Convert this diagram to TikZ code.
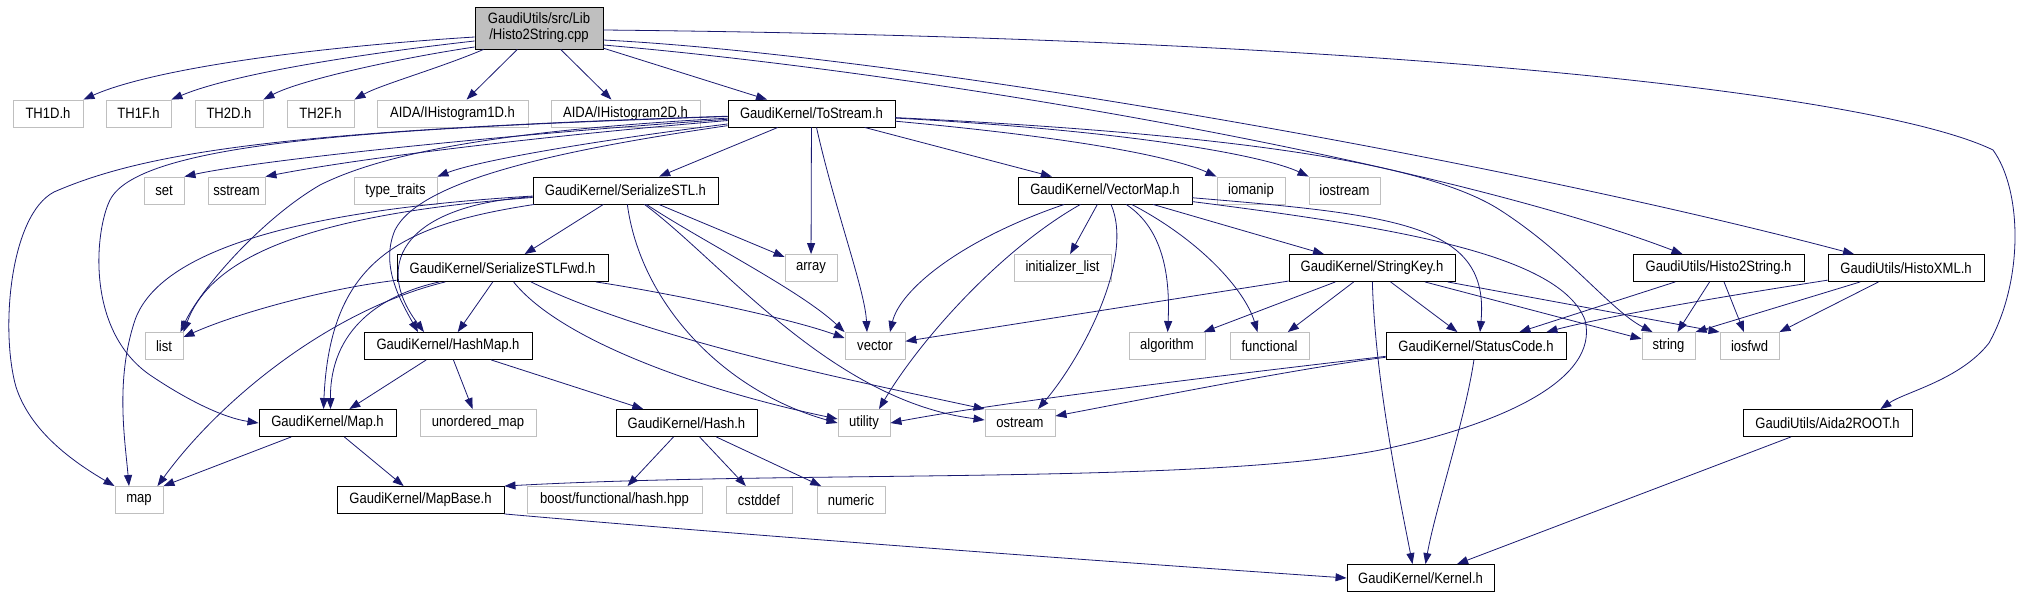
\documentclass[tikz,border=0pt]{standalone}
\usepackage{fontspec}
\setmainfont{Liberation Sans}[FakeStretch=0.87]
\usetikzlibrary{arrows.meta}
\definecolor{edgeblue}{HTML}{191970}

\begin{document}
\begin{tikzpicture}[x=1pt,y=-1pt,sysfile/.style={draw=black!25,line width=0.9pt,minimum height=27pt,inner sep=0pt,font=\fontsize{15}{16}\selectfont},header/.style={sysfile,draw=black},arrow/.style={draw=edgeblue,line width=0.8pt,-{Triangle[length=11pt,width=8pt]}}]
  \useasboundingbox (0,0) rectangle (2027,597);
  \node[header,fill=black!25,minimum width=128pt,minimum height=42pt,align=center] (root) at (539,28) {GaudiUtils/src/Lib\\/Histo2String.cpp};
  % second row
  \node[sysfile,minimum width=70pt] (th1d) at (48,113.5) {TH1D.h};
  \node[sysfile,minimum width=65pt] (th1f) at (138.5,113.5) {TH1F.h};
  \node[sysfile,minimum width=68pt] (th2d) at (229,113.5) {TH2D.h};
  \node[sysfile,minimum width=67pt] (th2f) at (320.5,113.5) {TH2F.h};
  \node[sysfile,minimum width=151pt] (aida1d) at (452.5,113.5) {AIDA/IHistogram1D.h};
  \node[sysfile,minimum width=149pt] (aida2d) at (625.5,113.5) {AIDA/IHistogram2D.h};
  \node[header,minimum width=167pt] (tostream) at (811.5,113.5) {GaudiKernel/ToStream.h};
  % third row
  \node[sysfile,minimum width=40pt] (set) at (164,190.5) {set};
  \node[sysfile,minimum width=57pt] (sstream) at (236.5,190.5) {sstream};
  \node[sysfile,minimum width=83pt] (typetraits) at (395.5,190.5) {type\_traits};
  \node[header,minimum width=185pt] (serstl) at (625.5,190.5) {GaudiKernel/SerializeSTL.h};
  \node[header,minimum width=174pt] (vectormap) at (1105,190.5) {GaudiKernel/VectorMap.h};
  \node[sysfile,minimum width=68pt] (iomanip) at (1251,190.5) {iomanip};
  \node[sysfile,minimum width=71pt] (iostream) at (1344.5,190.5) {iostream};
  % fourth row
  \node[header,minimum width=211pt] (serstlfwd) at (502.5,268) {GaudiKernel/SerializeSTLFwd.h};
  \node[sysfile,minimum width=52pt] (array) at (811,268) {array};
  \node[sysfile,minimum width=97pt] (initlist) at (1062.5,268) {initializer\_list};
  \node[header,minimum width=166pt] (stringkey) at (1372,268) {GaudiKernel/StringKey.h};
  \node[header,minimum width=171pt] (histo2stringh) at (1718.5,268) {GaudiUtils/Histo2String.h};
  \node[header,minimum width=156pt] (histoxml) at (1906,268) {GaudiUtils/HistoXML.h};
  % fifth row
  \node[sysfile,minimum width=38pt] (list) at (164,346) {list};
  \node[header,minimum width=168pt] (hashmap) at (448,346) {GaudiKernel/HashMap.h};
  \node[sysfile,minimum width=60pt] (vector) at (875,346) {vector};
  \node[sysfile,minimum width=76pt] (algorithm) at (1167,346) {algorithm};
  \node[sysfile,minimum width=79pt] (functional) at (1269.5,346) {functional};
  \node[header,minimum width=180pt] (statuscode) at (1476,346) {GaudiKernel/StatusCode.h};
  \node[sysfile,minimum width=53pt] (string) at (1668.5,346) {string};
  \node[sysfile,minimum width=59pt] (iosfwd) at (1749.5,346) {iosfwd};
  % sixth row
  \node[header,minimum width=137pt] (maph) at (327.5,423) {GaudiKernel/Map.h};
  \node[sysfile,minimum width=116pt] (unorderedmap) at (478,423) {unordered\_map};
  \node[header,minimum width=141pt] (hash) at (686.5,423) {GaudiKernel/Hash.h};
  \node[sysfile,minimum width=52pt] (utility) at (864,423) {utility};
  \node[sysfile,minimum width=70pt] (ostream) at (1020,423) {ostream};
  \node[header,minimum width=169pt] (aida2root) at (1827.5,423) {GaudiUtils/Aida2ROOT.h};
  % seventh and last row
  \node[sysfile,minimum width=48pt] (map) at (139,500) {map};
  \node[header,minimum width=167pt] (mapbase) at (420.5,500) {GaudiKernel/MapBase.h};
  \node[sysfile,minimum width=175pt] (boosthash) at (614.5,500) {boost/functional/hash.hpp};
  \node[sysfile,minimum width=66pt] (cstddef) at (759,500) {cstddef};
  \node[sysfile,minimum width=68pt] (numeric) at (851,500) {numeric};
  \node[header,minimum width=147pt] (kernel) at (1420.5,578) {GaudiKernel/Kernel.h};
  % Histo2String.cpp
  \draw[arrow] ([yshift=-9pt]root.west) .. controls (300,48) and (150,70) .. (th1d.north east);
  \draw[arrow] ([yshift=-13pt]root.west) .. controls (350,55) and (230,75) .. (th1f.north east);
  \draw[arrow] ([yshift=-19pt]root.west) .. controls (400,58) and (300,80) .. (th2d.north east);
  \draw[arrow] ([xshift=9pt]root.south west) .. controls (440,68) and (380,85) .. (th2f.north east);
  \draw[arrow] (root) -- (aida1d);
  \draw[arrow] (root) -- (aida2d);
  \draw[arrow] (root) -- (tostream);
  \draw[arrow] ([yshift=-12pt]root.east) .. controls (900,55) and (1500,160) .. ([xshift=-52pt]histoxml.north);
  \draw[arrow] ([yshift=-17pt]root.east) .. controls (950,75) and (1450,165) .. ([xshift=-36pt]histo2stringh.north);
  \draw[arrow] ([yshift=-2pt]root.east) .. controls (1400,38) and (1880,95) .. (1993,150) .. controls (2022,190) and (2024,280) .. (1989,343) .. controls (1960,380) and (1905,392) .. ([xshift=-32pt]aida2root.north east);
  % ToStream.h
  \draw[arrow] (tostream) .. controls (500,135) and (260,160) .. (set.north east);
  \draw[arrow] (tostream) .. controls (520,138) and (350,160) .. (sstream.north east);
  \draw[arrow] (tostream) .. controls (600,140) and (480,160) .. (typetraits.north east);
  \draw[arrow] (tostream) .. controls (550,128) and (400,145) .. (320,185) .. controls (260,220) and (200,290) .. ([xshift=-3pt]list.north east);
  \draw[arrow] (tostream) .. controls (300,130) and (150,150) .. (54,192) .. controls (10,215) and (0,330) .. (16,387) .. controls (30,430) and (70,460) .. (map.north west);
  \draw[arrow] (tostream) .. controls (400,128) and (140,140) .. (110,200) .. controls (95,230) and (85,330) .. (150,375) .. controls (190,402) and (225,418) .. (maph.west);
  \draw[arrow] (tostream) .. controls (560,150) and (420,180) .. (395,230) .. controls (380,265) and (400,300) .. ([xshift=-30pt]hashmap.north);
  \draw[arrow] (tostream) -- (serstl);
  \draw[arrow] (tostream) -- (array);
  \draw[arrow] ([xshift=5pt]tostream.south) .. controls (835,210) and (865,290) .. ([xshift=-8pt]vector.north);
  \draw[arrow] (tostream) -- (vectormap);
  \draw[arrow] (tostream) .. controls (1100,140) and (1180,160) .. (iomanip.north west);
  \draw[arrow] (tostream) .. controls (1150,132) and (1270,158) .. (iostream.north west);
  \draw[arrow] (tostream) .. controls (1250,135) and (1430,165) .. (1500,210) .. controls (1570,255) and (1610,310) .. ([xshift=-16pt]string.north);
  % SerializeSTL.h
  \draw[arrow] (serstl) -- (serstlfwd);
  \draw[arrow] (serstl) .. controls (300,215) and (210,260) .. (list.north east);
  \draw[arrow] (serstl) .. controls (300,210) and (160,250) .. (135,320) .. controls (115,380) and (125,440) .. ([xshift=-10pt]map.north);
  \draw[arrow] (serstl) .. controls (400,225) and (330,260) .. ([xshift=-4pt]maph.north);
  \draw[arrow] (serstl) .. controls (410,205) and (370,260) .. ([xshift=-24pt]hashmap.north);
  \draw[arrow] (serstl) -- (array);
  \draw[arrow] (serstl) .. controls (700,240) and (800,290) .. (vector.north west);
  \draw[arrow] (serstl) .. controls (640,300) and (720,390) .. (utility.west);
  \draw[arrow] (serstl) .. controls (720,260) and (830,400) .. ([yshift=3pt]ostream.west);
  % SerializeSTLFwd.h
  \draw[arrow] (serstlfwd) .. controls (330,288) and (240,312) .. ([yshift=-5pt]list.north east);
  \draw[arrow] (serstlfwd) .. controls (330,310) and (220,400) .. ([xshift=-6pt]map.north east);
  \draw[arrow] (serstlfwd) .. controls (380,295) and (330,330) .. ([xshift=3pt]maph.north);
  \draw[arrow] (serstlfwd) -- (hashmap);
  \draw[arrow] (serstlfwd) .. controls (650,290) and (780,315) .. ([yshift=8pt]vector.west);
  \draw[arrow] (serstlfwd) .. controls (560,340) and (700,390) .. ([yshift=4pt]utility.west);
  \draw[arrow] (serstlfwd) .. controls (650,340) and (850,380) .. (ostream.north west);
  % VectorMap.h
  \draw[arrow] (vectormap) .. controls (960,240) and (900,290) .. ([xshift=15pt]vector.north);
  \draw[arrow] (vectormap) -- (initlist);
  \draw[arrow] (vectormap) .. controls (1000,250) and (920,340) .. ([xshift=15pt]utility.north);
  \draw[arrow] (vectormap) .. controls (1135,260) and (1080,360) .. ([xshift=18pt]ostream.north);
  \draw[arrow] (vectormap) .. controls (1165,230) and (1170,280) .. (algorithm);
  \draw[arrow] (vectormap) .. controls (1200,240) and (1245,290) .. ([xshift=-12pt]functional.north);
  \draw[arrow] (vectormap) -- (stringkey);
  \draw[arrow] (vectormap) .. controls (1400,215) and (1490,225) .. ([xshift=4pt]statuscode.north);
  \draw[arrow] (vectormap) .. controls (1400,228) and (1560,255) .. (1585,320) .. controls (1600,380) and (1500,425) .. (1380,450) .. controls (1200,485) and (800,470) .. (mapbase.north east);
  % StringKey.h
  \draw[arrow] (stringkey) -- (vector);
  \draw[arrow] (stringkey) -- (algorithm);
  \draw[arrow] (stringkey) -- (functional);
  \draw[arrow] (stringkey) -- (statuscode);
  \draw[arrow] (stringkey) -- (string);
  \draw[arrow] (stringkey) -- (iosfwd.north west);
  \draw[arrow] (stringkey) .. controls (1375,380) and (1400,500) .. ([xshift=-8pt]kernel.north);
  % StatusCode.h
  \draw[arrow] (statuscode) .. controls (1250,372) and (1000,402) .. (utility.east);
  \draw[arrow] (statuscode) .. controls (1300,368) and (1150,398) .. ([yshift=7pt]ostream.east);
  \draw[arrow] (statuscode) .. controls (1465,420) and (1435,510) .. ([xshift=5pt]kernel.north);
  % Histo2String.h and HistoXML.h
  \draw[arrow] (histo2stringh) -- (statuscode);
  \draw[arrow] (histo2stringh) -- (string);
  \draw[arrow] (histo2stringh) -- (iosfwd);
  \draw[arrow] (histoxml) .. controls (1700,300) and (1600,318) .. ([xshift=-20pt]statuscode.north east);
  \draw[arrow] (histoxml) -- (string.north east);
  \draw[arrow] (histoxml) -- (iosfwd.north east);
  % HashMap.h, Map.h, Hash.h
  \draw[arrow] (hashmap) -- (maph);
  \draw[arrow] (hashmap) -- (unorderedmap);
  \draw[arrow] (hashmap) -- (hash);
  \draw[arrow] (maph) -- (map.north east);
  \draw[arrow] (maph) -- (mapbase);
  \draw[arrow] (hash) -- (boosthash);
  \draw[arrow] (hash) -- (cstddef);
  \draw[arrow] (hash) -- (numeric);
  % MapBase.h and Aida2ROOT.h
  \draw[arrow] (mapbase.south east) .. controls (800,540) and (1200,568) .. (kernel.west);
  \draw[arrow] (aida2root) -- (kernel);
\end{tikzpicture}
\end{document}
